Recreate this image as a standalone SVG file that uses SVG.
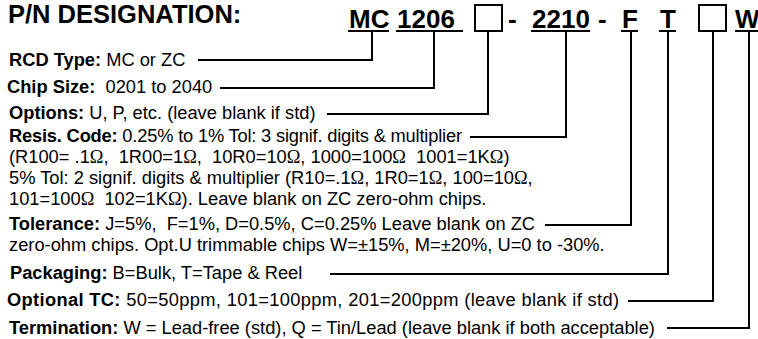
<svg xmlns="http://www.w3.org/2000/svg" width="758" height="339" viewBox="0 0 758 339">
<style>
text{font-family:"Liberation Sans",Arial,sans-serif;fill:#000;white-space:pre}
.t{font-size:25.5px;font-weight:bold}
.h{font-size:26px;font-weight:bold}
.b{font-size:18.3px}
.k{font-weight:bold}
.o{font-family:"Liberation Serif","Times New Roman",serif}
.ul{stroke:#000;stroke-width:2}
.bx{fill:none;stroke:#000;stroke-width:2}
.c{fill:none;stroke:#000;stroke-width:2}
</style>
<rect width="758" height="339" fill="#fff"/>
<g id="title"><text class="t" x="8" y="23">P/N DESIGNATION:</text></g>
<g id="code-mc"><text class="h" x="349" y="28">MC</text><line class="ul" x1="348" y1="31" x2="389" y2="31"/></g>
<g id="code-1206"><text class="h" x="397" y="28">1206</text><line class="ul" x1="396" y1="31" x2="463" y2="31"/></g>
<g id="code-options"><rect class="bx" x="475" y="5" width="27" height="26"/></g>
<g id="dash-1"><text class="h" x="508" y="28">-</text></g>
<g id="code-2210"><text class="h" x="532" y="28">2210</text><line class="ul" x1="531" y1="31" x2="590" y2="31"/></g>
<g id="dash-2"><text class="h" x="598" y="28">-</text></g>
<g id="code-f"><text class="h" x="622" y="28">F</text><line class="ul" x1="621" y1="31" x2="638" y2="31"/></g>
<g id="code-t"><text class="h" x="660" y="28">T</text><line class="ul" x1="659" y1="31" x2="676" y2="31"/></g>
<g id="code-tc"><rect class="bx" x="699" y="5" width="27" height="26"/></g>
<g id="code-w"><text class="h" x="735" y="28">W</text><line class="ul" x1="735" y1="31" x2="758" y2="31"/></g>

<g id="label-rcd"><text class="b" x="9" y="66"><tspan class="k">RCD Type:</tspan> MC or ZC</text></g>
<g id="label-chip"><text class="b" x="7" y="93"><tspan class="k">Chip Size:</tspan>  0201 to 2040</text></g>
<g id="label-options"><text class="b" x="9" y="119"><tspan class="k">Options:</tspan> U, P, etc. (leave blank if std)</text></g>
<g id="label-resis">
<text class="b" x="9" y="142" textLength="453"><tspan class="k">Resis. Code:</tspan> 0.25% to 1% Tol: 3 signif. digits &amp; multiplier</text>
<text class="b" x="9" y="163">(R100= .1<tspan class="o">Ω</tspan>,  1R00=1<tspan class="o">Ω</tspan>,  10R0=10<tspan class="o">Ω</tspan>, 1000=100<tspan class="o">Ω</tspan>  1001=1K<tspan class="o">Ω</tspan>)</text>
<text class="b" x="9" y="184">5% Tol: 2 signif. digits &amp; multiplier (R10=.1<tspan class="o">Ω</tspan>, 1R0=1<tspan class="o">Ω</tspan>, 100=10<tspan class="o">Ω</tspan>,</text>
<text class="b" x="9" y="205">101=100<tspan class="o">Ω</tspan>  102=1K<tspan class="o">Ω</tspan>). Leave blank on ZC zero-ohm chips.</text>
</g>
<g id="label-tolerance">
<text class="b" x="9" y="230"><tspan class="k">Tolerance:</tspan> J=5%,  F=1%, D=0.5%, C=0.25% Leave blank on ZC</text>
<text class="b" x="9" y="251">zero-ohm chips. Opt.U trimmable chips W=±15%, M=±20%, U=0 to -30%.</text>
</g>
<g id="label-packaging"><text class="b" x="10" y="279"><tspan class="k">Packaging:</tspan> B=Bulk, T=Tape &amp; Reel</text></g>
<g id="label-tc"><text class="b" x="7" y="306" textLength="612"><tspan class="k">Optional TC:</tspan> 50=50ppm, 101=100ppm, 201=200ppm (leave blank if std)</text></g>
<g id="label-termination"><text class="b" x="9" y="334"><tspan class="k">Termination:</tspan> W = Lead-free (std), Q = Tin/Lead (leave blank if both acceptable)</text></g>

<g id="connectors">
<path class="c" d="M198,60H372V31"/>
<path class="c" d="M220,88H434V31"/>
<path class="c" d="M327,114H488V31"/>
<path class="c" d="M470,137H566V31"/>
<path class="c" d="M545,225H631V31"/>
<path class="c" d="M330,274H668V31"/>
<path class="c" d="M628,301H713V31"/>
<path class="c" d="M667,328H749V31"/>
</g>
</svg>
